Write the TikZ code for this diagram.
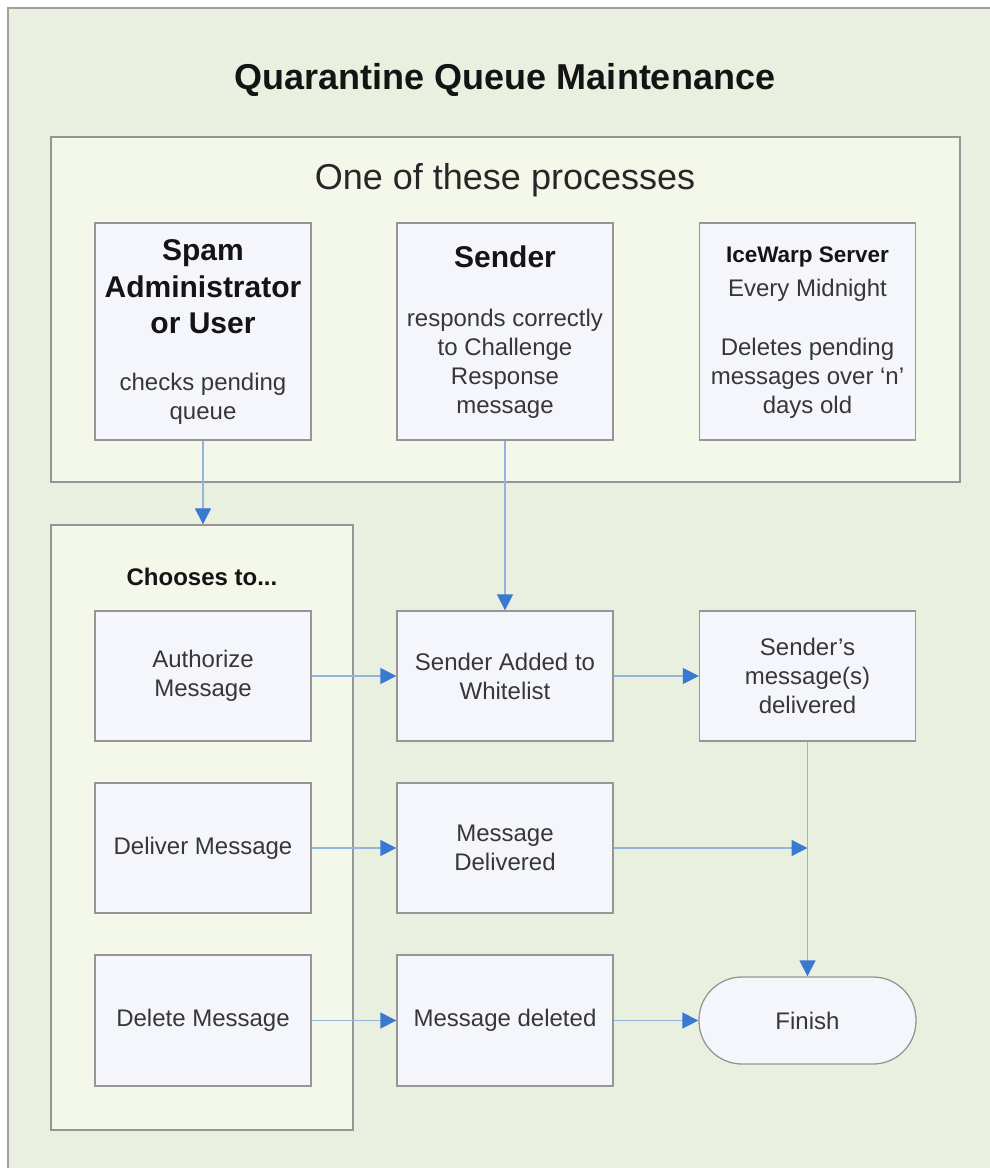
\documentclass[tikz,border=0pt]{standalone}
\usepackage{fontspec}
\setmainfont{Liberation Sans}
\usetikzlibrary{arrows.meta}
\definecolor{pagebg}{RGB}{234,240,224}
\definecolor{groupbg}{RGB}{243,248,234}
\definecolor{boxbg}{RGB}{244,246,251}
\definecolor{edge}{RGB}{150,150,150}
\definecolor{wire}{RGB}{148,180,222}
\definecolor{tip}{RGB}{58,120,210}
\definecolor{ink}{RGB}{55,55,55}
\definecolor{headink}{RGB}{20,20,20}
\newcommand\fsz[2]{\fontsize{#1}{#2}\selectfont}
\tikzset{
  group/.style={draw=edge, line width=1.4pt, fill=groupbg, inner sep=0pt},
  stepbox/.style={draw=edge, line width=1.3pt, fill=boxbg, inner sep=0pt,
    minimum width=216pt, text=ink, align=center, font=\fsz{24}{29}},
  endbox/.style={stepbox, rounded corners=43pt, minimum height=87pt},
  headtxt/.style={text=headink, align=center, inner sep=0pt},
  bodytxt/.style={text=ink, align=center, inner sep=0pt, font=\fsz{24}{29}},
  flow/.style={draw=wire, line width=1.3pt,
    -{Triangle[length=16pt, width=16pt, color=tip]}},
}
\begin{document}
\begin{tikzpicture}[x=1pt, y=-1pt]
\useasboundingbox (0,0) rectangle (990,1168);
\clip (0,0) rectangle (990,1168);
\fill[white] (0,0) rectangle (990,1168);
% outer sheet
\draw[draw=edge!90, line width=1.5pt, fill=pagebg] (8,8) rectangle (1010,1190);

\node[headtxt, font=\bfseries\fsz{36}{40}] (title) at (505,80) {Quarantine Queue Maintenance};

% group of the three triggering processes
\node[group, minimum width=909pt, minimum height=345pt] (procs) at (505.5,309.5) {};
\node[headtxt, text=ink!70!black, font=\fsz{36}{40}] (procsT) at (505,180) {One of these processes};

\node[stepbox, minimum height=217pt] (spam) at (203,331.5) {};
\node[headtxt, font=\bfseries\fsz{30}{36.5}] (spamT) at (203,287) {Spam\\Administrator\\or User};
\node[bodytxt] (spamB) at (203,399) {checks pending\\queue};

\node[stepbox, minimum height=217pt] (sender) at (505,331.5) {};
\node[headtxt, font=\bfseries\fsz{30}{36.5}] (senderT) at (505,257) {Sender};
\node[bodytxt] (senderB) at (505,363.5) {responds correctly\\to Challenge\\Response\\message};

\node[stepbox, minimum height=217pt] (server) at (807.5,331.5) {};
\node[headtxt, font=\bfseries\fsz{22.5}{28}] (serverT) at (807.5,257) {IceWarp Server};
\node[bodytxt] (serverM) at (807.5,290) {Every Midnight};
\node[bodytxt] (serverB) at (807.5,378) {Deletes pending\\messages over ‘n’\\days old};

% group of the choices
\node[group, minimum width=302pt, minimum height=605pt] (choose) at (202,827.5) {};
\node[headtxt, font=\bfseries\fsz{24}{29}] (chooseT) at (202,577) {Chooses to...};

\node[stepbox, minimum height=130pt] (auth) at (203,676) {Authorize\\Message};
\node[stepbox, minimum height=130pt] (deliver) at (203,848) {Deliver Message};
\node[stepbox, minimum height=131pt] (delete) at (203,1020.5) {Delete Message};

\node[stepbox, minimum height=130pt] (white) at (505,676) {Sender Added to\\Whitelist};
\node[stepbox, minimum height=130pt] (mdel) at (505,848) {Message\\Delivered};
\node[stepbox, minimum height=131pt] (mgone) at (505,1020.5) {Message deleted};

\node[stepbox, minimum height=130pt] (smsg) at (807.5,676) {Sender’s\\message(s)\\delivered};
\node[endbox, minimum width=217pt] (finish) at (807.5,1020.5) {Finish};

% connectors
\coordinate (join) at (smsg.south |- mdel.east);
\draw[flow] (spam.south) -- (spam.south |- choose.north);
\draw[flow] (sender.south) -- (white.north);
\draw[flow] (auth.east) -- (white.west);
\draw[flow] (white.east) -- (smsg.west);
\draw[flow] (deliver.east) -- (mdel.west);
\draw[flow] (mdel.east) -- (join);
\draw[flow] (smsg.south) -- (finish.north);
\draw[flow] (delete.east) -- (mgone.west);
\draw[flow] (mgone.east) -- (finish.west);
\end{tikzpicture}
\end{document}
